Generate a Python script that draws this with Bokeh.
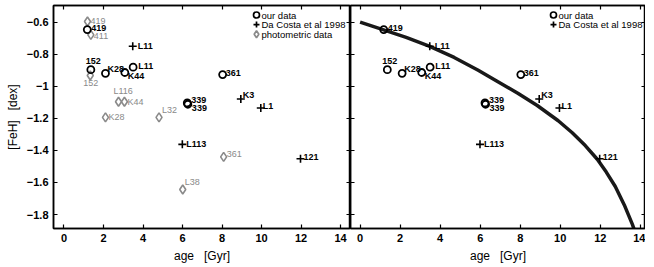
from bokeh.plotting import figure
from bokeh.models import (Range1d, LinearAxis, FixedTicker, CustomJSTickFormatter,
                          ColumnDataSource)
from bokeh.layouts import row
from bokeh.embed import file_html
from bokeh.resources import INLINE
from bokeh.core.properties import value

# ---------------- data ----------------
our_names = ["419", "152", "K28", "K44", "L11", "339", "339", "361"]
our_age = [1.18, 1.36, 2.10, 3.08, 3.50, 6.24, 6.27, 8.03]
our_feh = [-0.646, -0.896, -0.919, -0.914, -0.881, -1.104, -1.112, -0.927]

dc_names = ["L11", "K3", "L1", "L113", "121"]
dc_age = [3.48, 8.95, 9.96, 5.99, 11.97]
dc_feh = [-0.750, -1.079, -1.135, -1.362, -1.452]

ph_names = ["419", "411", "152", "L116", "K44", "K28", "L32", "361", "L38"]
ph_age = [1.19, 1.36, 1.33, 2.76, 3.06, 2.10, 4.81, 8.08, 6.01]
ph_feh = [-0.596, -0.679, -0.933, -1.096, -1.096, -1.194, -1.194, -1.440, -1.644]

model_age = [0.0, 1.1, 2.3, 3.45, 4.7, 5.9, 6.8, 7.9, 8.85, 9.9, 10.6, 11.25,
             11.85, 12.3, 12.75, 13.2, 13.6, 13.8]
model_feh = [-0.60, -0.645, -0.695, -0.75, -0.82, -0.90, -0.965, -1.045, -1.12,
             -1.215, -1.29, -1.37, -1.455, -1.535, -1.625, -1.74, -1.86, -1.93]

legend_labels = ["our data", "Da Costa et al 1998", "photometric data"]

x_ticks = [0, 2, 4, 6, 8, 10, 12, 14]
y_ticks = [-1.8, -1.6, -1.4, -1.2, -1.0, -0.8, -0.6]

# ---------------- label placement (style, screen px) ----------------
our_dx = [4, -5, 2, 3, 5, 4, 4, 3]
our_dy = [-2, -9, -4, 3, -1, -3, 4, -2]
dc_dx = [5, 2, 2, 4, 3]
dc_dy = [0, -4, -2, 0, -2]
ph_dx = [3, 3, -7, -5, 3, 3, 3, 3, 2]
ph_dy = [-1, 1, 7, -11, 0, 0, -7, -3, -8]

FONT = "Liberation Sans"
GREY = "#8a8a8a"
FRAME_H = 223
Y_RANGE = (-1.887, -0.496)
minus_fmt = CustomJSTickFormatter(code="var s = (Math.round(tick*10)/10).toString(); return s.replace('-', '\u2212');")
blank_fmt = CustomJSTickFormatter(code="return '';")


def style_axis(ax, labels=True, ticks=None):
    ax.ticker = FixedTicker(ticks=ticks)
    ax.major_tick_in = 4
    ax.major_tick_out = 0
    ax.minor_tick_line_color = None
    ax.axis_line_width = 1.5
    ax.axis_line_color = "black"
    ax.major_tick_line_color = "black"
    ax.major_tick_line_width = 1.2
    if labels:
        ax.major_label_text_font = FONT
        ax.major_label_text_font_style = "bold"
        ax.major_label_text_font_size = "11px"
        ax.major_label_text_color = "black"
        ax.major_label_standoff = 5
        ax.axis_label_text_font = FONT
        ax.axis_label_text_font_style = "normal"
        ax.axis_label_text_font_size = "12px"
        ax.axis_label_text_color = "black"
        ax.axis_label_standoff = 4
    else:
        ax.formatter = blank_fmt
        ax.major_label_text_font_size = "0px"
        ax.major_label_standoff = 0


def make_panel(xr, frame_w, left_labels, show_phot, show_model, leg_px_from_right):
    p = figure(output_backend="svg", toolbar_location=None,
               frame_width=frame_w, frame_height=FRAME_H,
               x_range=Range1d(*xr), y_range=Range1d(*Y_RANGE),
               min_border_left=53 if left_labels else 0, min_border_right=0,
               min_border_top=5, min_border_bottom=0)
    p.grid.visible = False
    p.outline_line_color = "black"
    p.outline_line_width = 1.5
    p.background_fill_color = "white"
    p.border_fill_color = "white"

    style_axis(p.below[0], True, x_ticks)
    p.below[0].axis_label = "age\u00a0\u00a0\u00a0[Gyr]"
    if left_labels:
        style_axis(p.left[0], True, y_ticks)
        p.left[0].formatter = minus_fmt
        p.left[0].axis_label = "[FeH]\u00a0\u00a0\u00a0[dex]"
    else:
        style_axis(p.left[0], False, y_ticks)
    top = LinearAxis()
    style_axis(top, False, x_ticks)
    p.add_layout(top, "above")
    right = LinearAxis()
    style_axis(right, False, y_ticks)
    p.add_layout(right, "right")

    if show_model:
        p.line(model_age, model_feh, line_color="black", line_width=3.5,
               line_alpha=0.9, line_join="round")

    if show_phot:
        src_p = ColumnDataSource(dict(x=ph_age, y=ph_feh, t=ph_names, dx=ph_dx, dy=ph_dy))
        p.scatter("x", "y", source=src_p, marker="diamond", size=9,
                  line_color=GREY, line_width=1.6, fill_color=None)
        p.text("x", "y", text="t", source=src_p, x_offset="dx", y_offset="dy",
               text_align="left", text_baseline="middle", text_color=GREY,
               text_font=value(FONT), text_font_size=value("9px"))

    src_o = ColumnDataSource(dict(x=our_age, y=our_feh, t=our_names, dx=our_dx, dy=our_dy))
    p.scatter("x", "y", source=src_o, marker="circle", size=7,
              line_color="black", line_width=1.8, fill_color=None)
    p.text("x", "y", text="t", source=src_o, x_offset="dx", y_offset="dy",
           text_align="left", text_baseline="middle", text_color="black",
           text_font=value(FONT), text_font_size=value("9px"), text_font_style="bold")

    src_d = ColumnDataSource(dict(x=dc_age, y=dc_feh, t=dc_names, dx=dc_dx, dy=dc_dy))
    p.scatter("x", "y", source=src_d, marker="cross", size=8,
              line_color="black", line_width=1.6)
    p.text("x", "y", text="t", source=src_d, x_offset="dx", y_offset="dy",
           text_align="left", text_baseline="middle", text_color="black",
           text_font=value(FONT), text_font_size=value("9px"), text_font_style="bold")

    # ---- legend, placed in pixels from the frame's top-right corner ----
    sx = frame_w / (xr[1] - xr[0])
    sy = FRAME_H / (Y_RANGE[1] - Y_RANGE[0])
    n = 3 if show_phot else 2
    lx = [xr[1] - leg_px_from_right / sx] * n
    ly = [Y_RANGE[1] - (9.5 + 9.6 * i) / sy for i in range(n)]
    markers = ["circle", "cross", "diamond"][:n]
    colors = ["black", "black", GREY][:n]
    sizes = [6, 6, 7][:n]
    lsrc = ColumnDataSource(dict(x=lx, y=ly, m=markers, c=colors, s=sizes,
                                 t=legend_labels[:n]))
    p.scatter("x", "y", source=lsrc, marker="m", size="s", line_color="c",
              line_width=1.7, fill_color=None)
    p.text("x", "y", text="t", source=lsrc, x_offset=5, y_offset=0,
           text_align="left", text_baseline="middle", text_color="black",
           text_font=value(FONT), text_font_size=value("9.5px"))
    return p


p1 = make_panel((-0.53, 14.5), 297, True, True, False, 94)
p2 = make_panel((-0.48, 14.26), 295, False, False, True, 92)

layout = row(p1, p2)
open("out.html", "w").write(file_html(layout, INLINE))
